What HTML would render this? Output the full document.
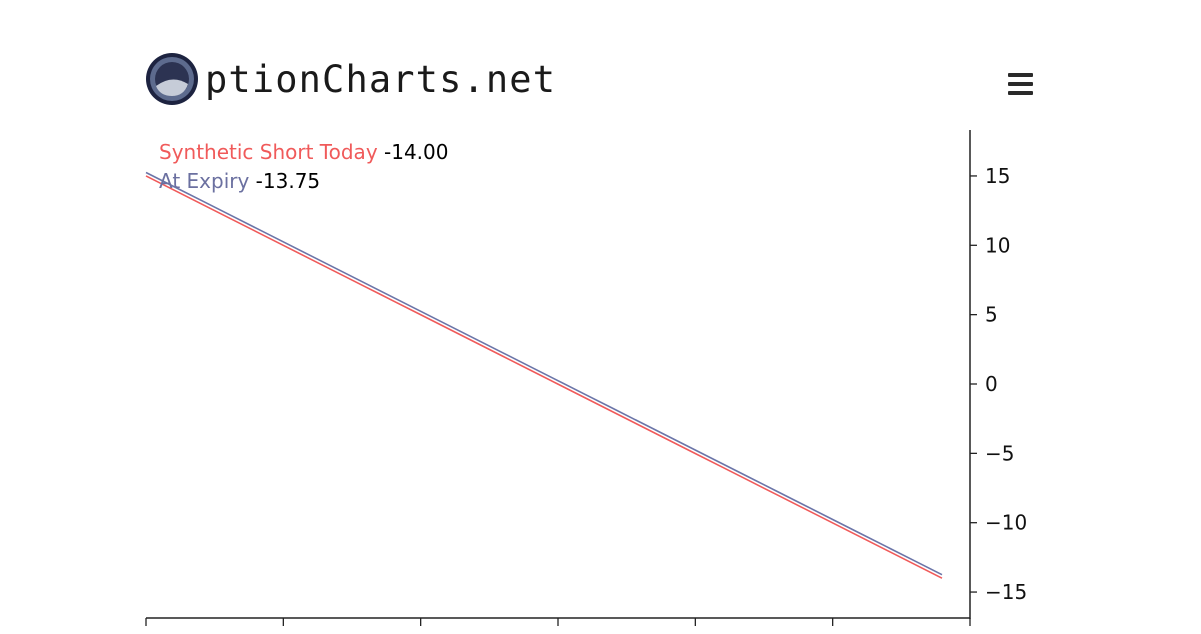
<!DOCTYPE html>
<html><head><meta charset="utf-8"><style>
body{margin:0;width:1201px;height:630px;background:#fff;overflow:hidden;font-family:"DejaVu Sans","Liberation Sans",sans-serif;}
</style></head><body>
<svg width="1201" height="630">
<g>
<circle cx="172" cy="79" r="26" fill="#1d2340"/>
<circle cx="172" cy="79" r="22" fill="#5d6b8e"/>
<circle cx="172" cy="79" r="17" fill="#2c3352"/>
<path d="M156 86 Q172 74 188 84 Q184 96 172 96 Q160 96 156 86Z" fill="#c6ccd8"/>
<text x="205" y="92" font-family="'DejaVu Sans Mono','Liberation Mono',monospace" font-size="37" textLength="350" fill="#1a1a1a">ptionCharts.net</text>
</g>
<g fill="#2a2a2a">
<rect x="1008" y="73" width="25" height="4" rx="1"/><rect x="1008" y="82" width="25" height="4" rx="1"/><rect x="1008" y="91" width="25" height="4" rx="1"/>
</g>
<g id="plot"></g>
<text x="159" y="159" font-size="20" fill="#f05a5a">Synthetic Short Today <tspan fill="#000">-14.00</tspan></text>
<text x="159" y="188" font-size="20" fill="#6b70a0">At Expiry <tspan fill="#000">-13.75</tspan></text>
</svg>
<script>
const yTicks=[15,10,5,0,-5,-10,-15];
const xTickCount=7;
const todayVals=[15,14,13,12,11,10,9,8,7,6,5,4,3,2,1,0,-1,-2,-3,-4,-5,-6,-7,-8,-9,-10,-11,-12,-13,-14];
const expiryVals=[15.25,14.25,13.25,12.25,11.25,10.25,9.25,8.25,7.25,6.25,5.25,4.25,3.25,2.25,1.25,0.25,-0.75,-1.75,-2.75,-3.75,-4.75,-5.75,-6.75,-7.75,-8.75,-9.75,-10.75,-11.75,-12.75,-13.75];
const NS="http://www.w3.org/2000/svg";
const g=document.getElementById('plot');
const y=v=>384-v*13.87;
const x=i=>146+i*(796/(todayVals.length-1));
function mk(t,a){const e=document.createElementNS(NS,t);for(const k in a)e.setAttribute(k,a[k]);g.appendChild(e);return e;}
let ax=mk('line',{x1:970,y1:130,x2:970,y2:619,stroke:'#222','stroke-width':1.5});


let bx=mk('line',{x1:146,y1:618,x2:970,y2:618,stroke:'#222','stroke-width':1.5});


yTicks.forEach(v=>{
 const t=mk('line',{x1:970,x2:977,y1:y(v),y2:y(v),stroke:'#222','stroke-width':1.3});
 
 
 const l=mk('text',{x:985,y:y(v)+7,'font-size':20,fill:'#111'});
 l.textContent=(v<0?'\u2212'+(-v):String(v));
 
 
});
for(let i=0;i<xTickCount;i++){
 const xx=146+i*(824/(xTickCount-1));
 const t=mk('line',{x1:xx,x2:xx,y1:618,y2:626,stroke:'#222','stroke-width':1.3});
 
 
}
const p1=mk('polyline',{points:expiryVals.map((v,i)=>x(i)+','+y(v)).join(' '),fill:'none',stroke:'#6b75a8','stroke-width':1.6});


const p2=mk('polyline',{points:todayVals.map((v,i)=>x(i)+','+y(v)).join(' '),fill:'none',stroke:'#f05a5a','stroke-width':1.6});


</script>
</body></html>
